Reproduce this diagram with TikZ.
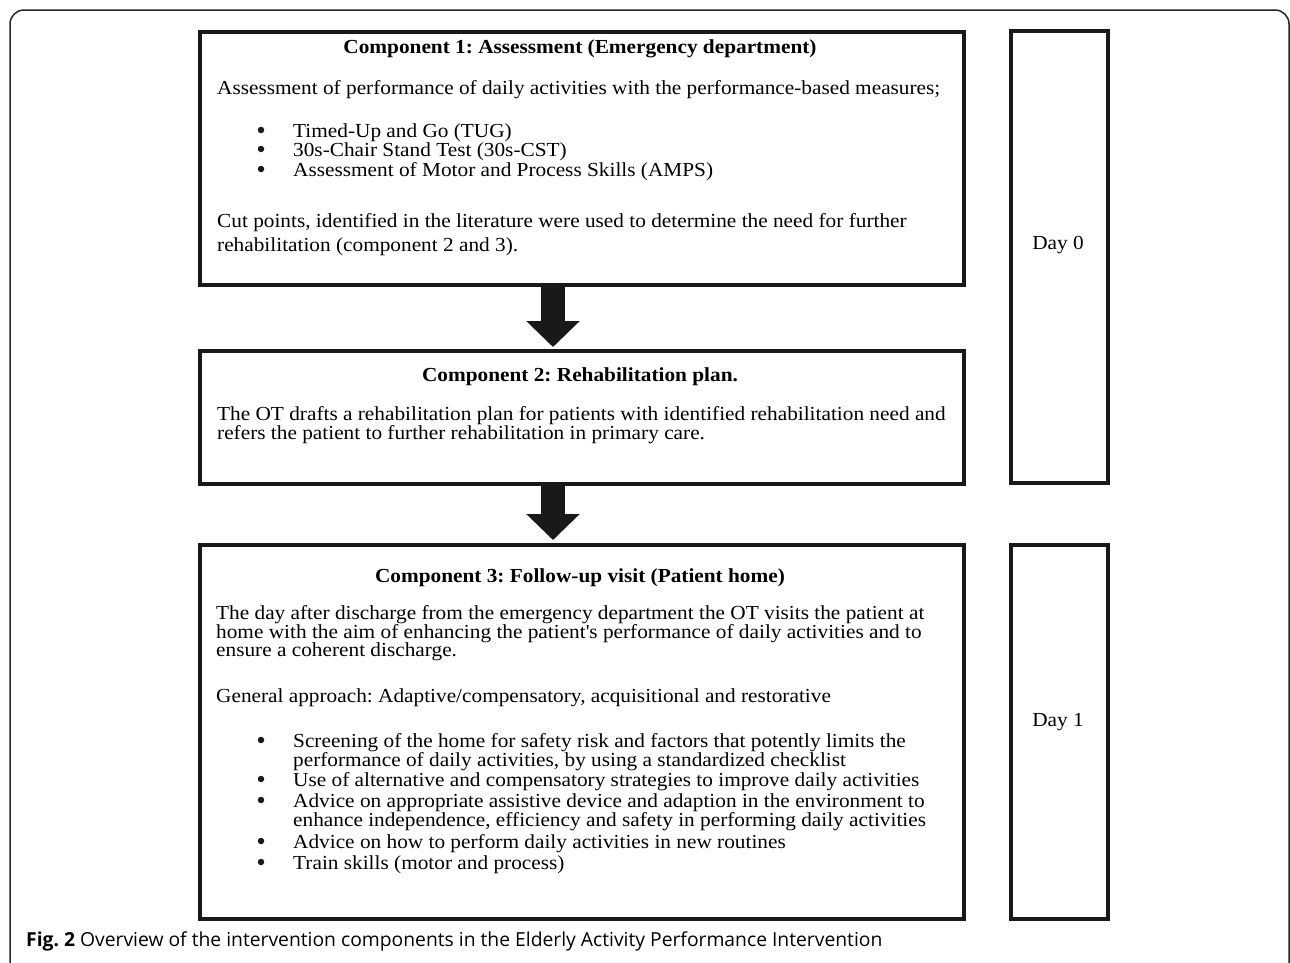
\documentclass[tikz,border=0pt]{standalone}
\usepackage{fontspec}
\setmainfont{Liberation Serif}[FakeStretch=1.07]
\newfontfamily\capfont{Open Sans}
\usetikzlibrary{arrows.meta}
\frenchspacing
\begin{document}
\begin{tikzpicture}[x=1pt,y=-1pt,
  frame/.style={draw=black!85, line width=1.5pt, rounded corners=14pt},
  box/.style={draw=black!90, line width=3.5pt, inner sep=0pt, anchor=north west},
  fat/.style={draw=black!90, line width=24pt, -{Triangle[width=52pt,length=26pt]}},
  txt/.style={anchor=base west, inner sep=0pt, font=\fontsize{19.9}{21}\selectfont},
  ttl/.style={anchor=base, inner sep=0pt, font=\fontsize{19.9}{21}\selectfont\bfseries},
  lbl/.style={anchor=base, inner sep=0pt, font=\fontsize{19.9}{21}\selectfont},
  bul/.style={circle, fill=black!90, inner sep=0pt, minimum size=6.5pt},
  captext/.style={anchor=base west, inner sep=0pt, font=\fontsize{19.3}{20}\selectfont\capfont}]
\useasboundingbox (0,0) rectangle (1290,962);
\fill[white] (0,0) rectangle (1290,962);
\draw[frame] (10,990) |- (1289,10) -- (1289,990);

% boxes
\node[box, minimum width=764pt, minimum height=253pt] (c1) at (198,30) {};
\node[box, minimum width=764pt, minimum height=133pt] (c2) at (198,349) {};
\node[box, minimum width=764pt, minimum height=374pt] (c3) at (198,543) {};
\node[box, minimum width=97pt, minimum height=452pt] (d0) at (1009,29) {};
\node[box, minimum width=97pt, minimum height=374pt] (d1) at (1009,543) {};

% arrows
\coordinate (ax) at (553,0);
\draw[fat] (c1.south -| ax) -- ([yshift=2pt]c2.north -| ax);
\draw[fat] (c2.south -| ax) -- ([yshift=3pt]c3.north -| ax);

% component 1
\node[ttl] (t1) at (580,53) {Component 1: Assessment (Emergency department)};
\node[txt] (t1a) at (217,94) {Assessment of performance of daily activities with the performance-based measures;};
\node[bul] (b1a) at (261,130) {};
\node[txt] (t1b) at (293,137) {Timed-Up and Go (TUG)};
\node[bul] (b1b) at (261,149) {};
\node[txt] (t1c) at (293,156) {30s-Chair Stand Test (30s-CST)};
\node[bul] (b1c) at (261,169) {};
\node[txt] (t1d) at (293,176) {Assessment of Motor and Process Skills (AMPS)};
\node[txt] (t1e) at (217,227) {Cut points, identified in the literature were used to determine the need for further};
\node[txt] (t1f) at (217,251) {rehabilitation (component 2 and 3).};

% component 2
\node[ttl] (t2) at (580,381) {Component 2: Rehabilitation plan.};
\node[txt] (t2a) at (217,420) {The OT drafts a rehabilitation plan for patients with identified rehabilitation need and};
\node[txt] (t2b) at (217,439) {refers the patient to further rehabilitation in primary care.};

% component 3
\node[ttl] (t3) at (580,582) {Component 3: Follow-up visit (Patient home)};
\node[txt] (t3a) at (216,619) {The day after discharge from the emergency department the OT visits the patient at};
\node[txt] (t3b) at (216,638) {home with the aim of enhancing the patient\textquotesingle s performance of daily activities and to};
\node[txt] (t3c) at (216,656) {ensure a coherent discharge.};
\node[txt] (t3d) at (216,702) {General approach: Adaptive/compensatory, acquisitional and restorative};
\node[bul] (b3a) at (261,740) {};
\node[txt] (t3e) at (293,747) {Screening of the home for safety risk and factors that potently limits the};
\node[txt] (t3f) at (293,766) {performance of daily activities, by using a standardized checklist};
\node[bul] (b3b) at (261,779) {};
\node[txt] (t3g) at (293,786) {Use of alternative and compensatory strategies to improve daily activities};
\node[bul] (b3c) at (261,800) {};
\node[txt] (t3h) at (293,807) {Advice on appropriate assistive device and adaption in the environment to};
\node[txt] (t3i) at (293,826) {enhance independence, efficiency and safety in performing daily activities};
\node[bul] (b3d) at (261,841) {};
\node[txt] (t3j) at (293,848) {Advice on how to perform daily activities in new routines};
\node[bul] (b3e) at (261,862) {};
\node[txt] (t3k) at (293,869) {Train skills (motor and process)};

% days
\node[lbl] (day0) at (1058,249) {Day 0};
\node[lbl] (day1) at (1058,726) {Day 1};

% caption
\node[captext] (caption) at (26,946) {\textbf{Fig. 2} Overview of the intervention components in the Elderly Activity Performance Intervention};
\end{tikzpicture}
\end{document}
